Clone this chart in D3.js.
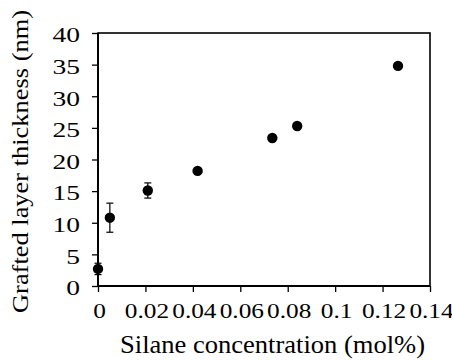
<!DOCTYPE html>
<html>
<head>
<meta charset="utf-8">
<script src="https://cdn.jsdelivr.net/npm/d3@7"></script>
<style>
  html, body { margin: 0; padding: 0; background: #fff; }
  svg { display: block; }
</style>
</head>
<body>
<div id="chart"></div>
<script>
// values
const concentration = [0, 0.005, 0.021, 0.042, 0.0735, 0.084, 0.1265];
const thickness = [2.7, 10.8, 15.1, 18.2, 23.4, 25.3, 34.8];
const errorBar = [0.9, 2.3, 1.2, 0, 0, 0, 0];

const xTicks = [0, 0.02, 0.04, 0.06, 0.08, 0.1, 0.12, 0.14];
const xTickLabels = ['0', '0.02', '0.04', '0.06', '0.08', '0.1', '0.12', '0.14'];
const yTicks = [0, 5, 10, 15, 20, 25, 30, 35, 40];
const yTickLabels = ['0', '5', '10', '15', '20', '25', '30', '35', '40'];

const width = 452;
const height = 361;
const margin = { top: 33, right: 22, bottom: 75, left: 98 };
const font = 'Liberation Serif';

const data = concentration.map((c, i) => ({ x: c, y: thickness[i], err: errorBar[i] }));

const svg = d3.select('#chart')
  .append('svg')
  .attr('width', width)
  .attr('height', height);

const xScale = d3.scaleLinear()
  .domain([0, 0.14])
  .range([margin.left, width - margin.right]);

const yScale = d3.scaleLinear()
  .domain([0, 40])
  .range([height - margin.bottom, margin.top]);

// axes
const xAxis = d3.axisBottom(xScale)
  .tickValues(xTicks)
  .tickFormat((d, i) => xTickLabels[i])
  .tickSizeInner(6)
  .tickSizeOuter(0);

const yAxis = d3.axisLeft(yScale)
  .tickValues(yTicks)
  .tickFormat((d, i) => yTickLabels[i])
  .tickSizeInner(6)
  .tickSizeOuter(0);

const gx = svg.append('g')
  .attr('transform', `translate(0, ${height - margin.bottom})`)
  .call(xAxis);

const gy = svg.append('g')
  .attr('transform', `translate(${margin.left}, 0)`)
  .call(yAxis);

[gx, gy].forEach(g => {
  g.attr('font-family', font).attr('font-size', 22);
  g.select('.domain').remove();
  g.selectAll('.tick line').attr('stroke', '#000').attr('stroke-width', 1.3);
  g.selectAll('.tick text').attr('fill', '#000');
});

// the original lettering is a little wide, stretch it sideways
gx.selectAll('.tick text')
  .attr('y', 0)
  .attr('dy', 0)
  .attr('transform', 'translate(1, 32) scale(1.15, 1)');

gy.selectAll('.tick text')
  .attr('x', 0)
  .attr('dy', '0.4em')
  .attr('transform', 'translate(-18, 0) scale(1.25, 1)');

// plot frame
const x0 = xScale.range()[0], x1 = xScale.range()[1];
const y0 = yScale.range()[0], y1 = yScale.range()[1];

svg.append('rect')
  .attr('x', x0)
  .attr('y', y1)
  .attr('width', x1 - x0)
  .attr('height', y0 - y1)
  .attr('fill', 'none')
  .attr('stroke', '#000')
  .attr('stroke-width', 1.6);

svg.append('line')
  .attr('x1', x0).attr('x2', x0)
  .attr('y1', y1).attr('y2', y0)
  .attr('stroke', '#000')
  .attr('stroke-width', 2);

svg.append('line')
  .attr('x1', x0).attr('x2', x1)
  .attr('y1', y0).attr('y2', y0)
  .attr('stroke', '#000')
  .attr('stroke-width', 2);

// error bars
const bars = svg.append('g').attr('class', 'errors')
  .selectAll('g')
  .data(data.filter(d => d.err > 0))
  .enter()
  .append('g')
  .attr('stroke', '#000')
  .attr('stroke-width', 1.2);

bars.append('line')
  .attr('x1', d => xScale(d.x))
  .attr('x2', d => xScale(d.x))
  .attr('y1', d => yScale(d.y + d.err))
  .attr('y2', d => yScale(d.y - d.err));

bars.append('line')
  .attr('x1', d => xScale(d.x) - 3.5)
  .attr('x2', d => xScale(d.x) + 3.5)
  .attr('y1', d => yScale(d.y + d.err))
  .attr('y2', d => yScale(d.y + d.err));

bars.append('line')
  .attr('x1', d => xScale(d.x) - 3.5)
  .attr('x2', d => xScale(d.x) + 3.5)
  .attr('y1', d => yScale(d.y - d.err))
  .attr('y2', d => yScale(d.y - d.err));

// points
svg.append('g').attr('class', 'dots')
  .selectAll('circle')
  .data(data)
  .enter()
  .append('circle')
  .attr('cx', d => xScale(d.x))
  .attr('cy', d => yScale(d.y))
  .attr('r', 5.2)
  .attr('fill', '#000');

// axis titles
svg.append('text')
  .attr('x', 272.5)
  .attr('y', 353)
  .attr('text-anchor', 'middle')
  .attr('textLength', 305)
  .attr('lengthAdjust', 'spacingAndGlyphs')
  .attr('font-family', font)
  .attr('font-size', 25)
  .attr('fill', '#000')
  .text('Silane concentration (mol%)');

svg.append('text')
  .attr('transform', 'translate(28, 161.5) rotate(-90)')
  .attr('text-anchor', 'middle')
  .attr('textLength', 303)
  .attr('lengthAdjust', 'spacingAndGlyphs')
  .attr('font-family', font)
  .attr('font-size', 24)
  .attr('fill', '#000')
  .text('Grafted layer thickness (nm)');
</script>
</body>
</html>
